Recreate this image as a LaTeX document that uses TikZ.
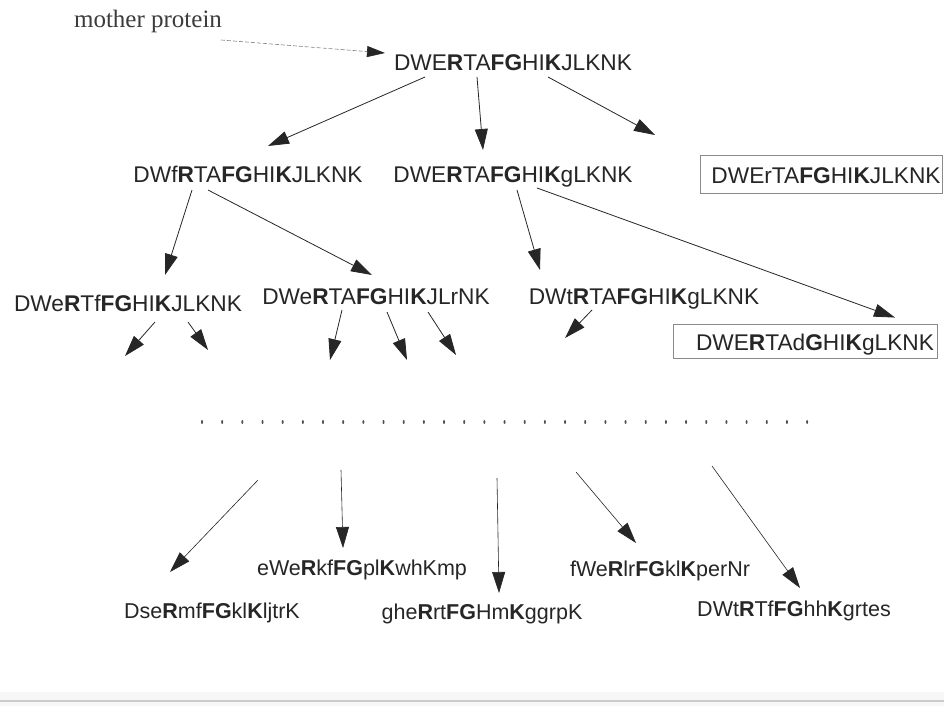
\documentclass[tikz,border=0pt]{standalone}
\usepackage{fontspec}
\setmainfont{Liberation Sans}
\newfontfamily\serifface{Liberation Serif}
\usetikzlibrary{arrows.meta}
\definecolor{ink}{HTML}{262626}
\definecolor{framegray}{HTML}{8A8A8A}
\newcommand{\B}[1]{\textbf{#1}}
\begin{document}
\begin{tikzpicture}[x=1pt,y=-1pt,
  seq/.style={inner sep=0pt,anchor=base,text=ink,font=\fontsize{22.7}{25}\selectfont},
  lateseq/.style={seq,font=\fontsize{21.5}{24}\selectfont},
  frame/.style={draw=framegray,line width=0.9pt,inner sep=0pt},
  arr/.style={-{Triangle[length=21pt,width=13pt]},line width=0.8pt,draw=ink},
  thinarr/.style={-{Triangle[length=21pt,width=13pt]},line width=0.6pt,draw=ink},
  dashedarr/.style={-{Triangle[length=18pt,width=11pt,color=ink]},dashed,dash pattern=on 4pt off 2pt,line width=0.6pt,draw=gray}]
\useasboundingbox (0,0) rectangle (944,706);
\fill[white] (0,0) rectangle (944,706);
% footer band
\fill[gray!6] (0,692) rectangle (944,706);
\draw[gray!40,line width=1.5pt] (0,701) -- (944,701);

% label and root sequence
\node[inner sep=0pt,anchor=base,text=ink!90,font=\serifface\fontsize{25}{28}\selectfont] (mother) at (148,28) {mother protein};
\node[seq] (root) at (513,71) {DWE\B{R}TA\B{FG}HI\B{K}JLKNK};

% second generation
\node[seq] (n21) at (248,182) {DWf\B{R}TA\B{FG}HI\B{K}JLKNK};
\node[seq] (n22) at (513,182) {DWE\B{R}TA\B{FG}HI\B{K}gLKNK};
\node[frame,minimum width=242pt,minimum height=38pt] (box1) at (821.5,174) {};
\node[seq] (n23) at (826,183) {DWErTA\B{FG}HI\B{K}JLKNK};

% third generation
\node[seq] (n31) at (128,311) {DWe\B{R}Tf\B{FG}HI\B{K}JLKNK};
\node[seq] (n32) at (376,304) {DWe\B{R}TA\B{FG}HI\B{K}JLrNK};
\node[seq] (n33) at (644,304) {DWt\B{R}TA\B{FG}HI\B{K}gLKNK};
\node[frame,minimum width=264pt,minimum height=34pt] (box2) at (805,341) {};
\node[seq] (n34) at (815,350) {DWE\B{R}TAd\B{G}HI\B{K}gLKNK};

% descendants
\node[lateseq] (n41) at (212,618) {Dse\B{R}mf\B{FG}kl\B{K}ljtrK};
\node[lateseq] (n42) at (362,575) {eWe\B{R}kf\B{FG}pl\B{K}whKmp};
\node[lateseq] (n43) at (482,619) {ghe\B{R}rt\B{FG}Hm\B{K}ggrpK};
\node[lateseq] (n44) at (660,576) {fWe\B{R}lr\B{FG}kl\B{K}perNr};
\node[lateseq] (n45) at (794,616) {DWt\B{R}Tf\B{FG}hh\B{K}grtes};

% free ends
\coordinate (e3) at (655,135);
\coordinate (d1) at (125,356);
\coordinate (d2) at (208,350);
\coordinate (d3) at (330,360);
\coordinate (d4) at (407,360);
\coordinate (d5) at (456,355);
\coordinate (d6) at (565,338);
\coordinate (s1) at (258,480);
\coordinate (s2) at (341,470);
\coordinate (s3) at (497,478);
\coordinate (s4) at (576,472);
\coordinate (s5) at (712,466);

% mutation arrows
\draw[dashedarr] ([shift={(73,12)}]mother.base) -- ([shift={(-128,-18)}]root.base);
\draw[arr] ([shift={(-88,6)}]root.base) -- ([shift={(20,-36)}]n21.base);
\draw[arr] ([shift={(-36,6)}]root.base) -- ([shift={(-30,-32)}]n22.base);
\draw[arr] ([shift={(35,6)}]root.base) -- (e3);
\draw[arr] ([shift={(-56,8)}]n21.base) -- ([shift={(37,-36)}]n31.base);
\draw[arr] ([shift={(-40,8)}]n21.base) -- ([shift={(-4,-29)}]n32.base);
\draw[arr] ([shift={(4,8)}]n22.base) -- ([shift={(-104,-34)}]n33.base);
\draw[arr] ([shift={(24,6)}]n22.base) -- ([shift={(90,-6)}]box2.north);
\draw[arr] ([shift={(27,11)}]n31.base) -- (d1);
\draw[arr] ([shift={(60,11)}]n31.base) -- (d2);
\draw[arr] ([shift={(-34,6)}]n32.base) -- (d3);
\draw[arr] ([shift={(11,8)}]n32.base) -- (d4);
\draw[arr] ([shift={(52,8)}]n32.base) -- (d5);
\draw[arr] ([shift={(-52,6)}]n33.base) -- (d6);

% ellipsis row
\foreach \i in {0,...,30}
  \fill[ink!80] (202+20.17*\i,422) ellipse (1pt and 2pt);

% later descendants
\draw[thinarr] (s1) -- ([shift={(-42,-46)}]n41.base);
\draw[thinarr] (s2) -- ([shift={(-19,-27)}]n42.base);
\draw[thinarr] (s3) -- ([shift={(17,-26)}]n43.base);
\draw[thinarr] (s4) -- ([shift={(-24,-33)}]n44.base);
\draw[thinarr] (s5) -- ([shift={(6,-28)}]n45.base);
\end{tikzpicture}
\end{document}
